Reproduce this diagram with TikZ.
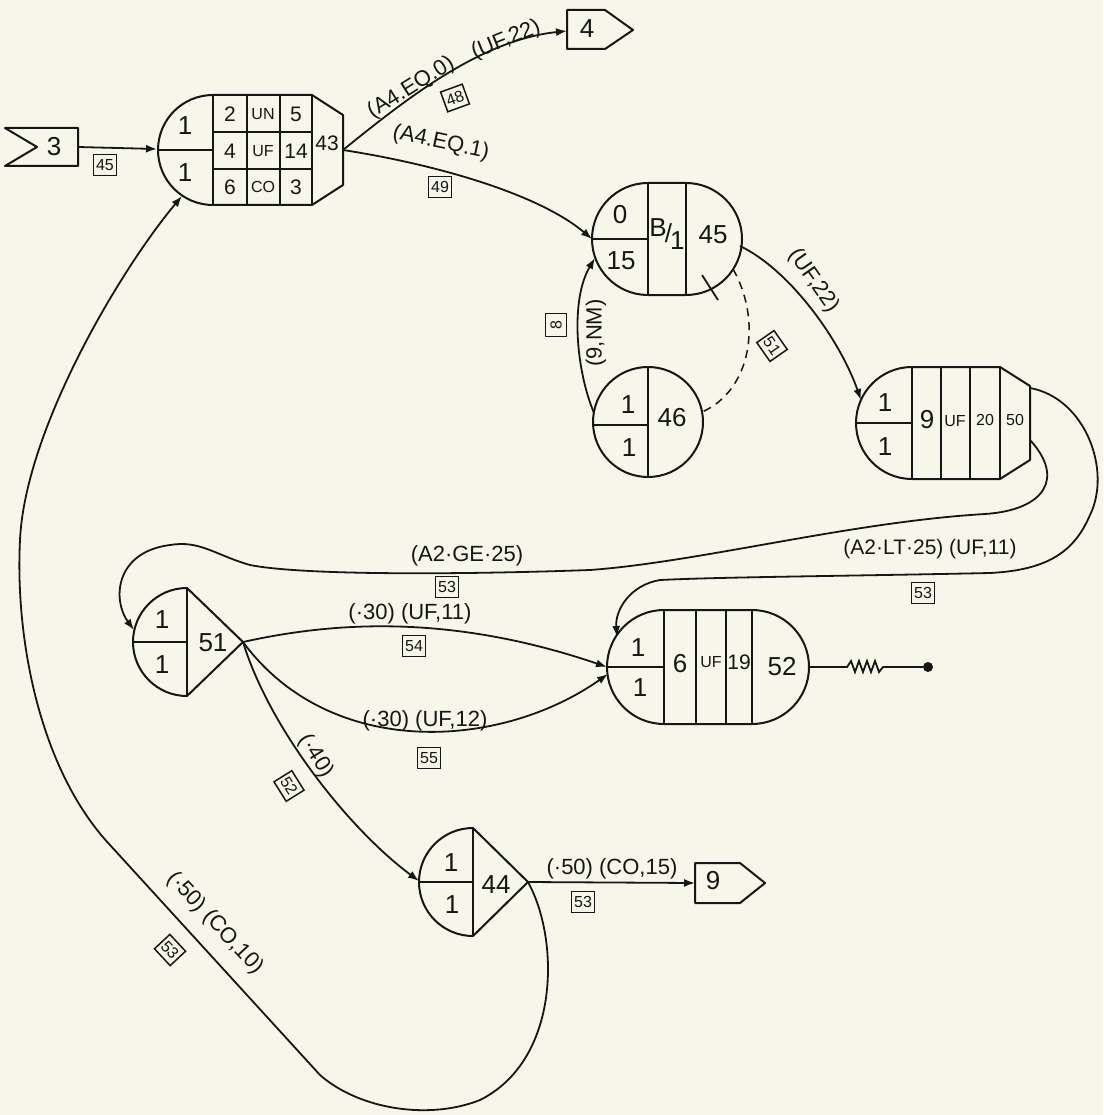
\documentclass[tikz,border=0pt]{standalone}
\usepackage{fontspec}
\setmainfont{Liberation Sans}
\usetikzlibrary{arrows.meta}
\definecolor{paper}{HTML}{F7F6EA}
\definecolor{ink}{HTML}{161616}
\begin{document}
\begin{tikzpicture}[x=1pt,y=-1pt,
  every node/.style={text=ink},
  inkline/.style={draw=ink, line width=2pt, line join=round},
  conn/.style={draw=ink, line width=1.8pt, -{Latex[length=11pt,width=8pt]}},
  plain/.style={draw=ink, line width=1.8pt},
  big/.style={inner sep=0pt, font=\fontsize{26}{28}\selectfont},
  cell/.style={inner sep=0pt, font=\fontsize{21}{23}\selectfont},
  letters/.style={inner sep=0pt, font=\fontsize{16}{18}\selectfont},
  lbl/.style={inner sep=0pt, font=\fontsize{22}{24}\selectfont},
  tag/.style={draw=ink, line width=1.5pt, inner sep=0.5pt, minimum width=23pt, minimum height=21pt, font=\fontsize{16}{17}\selectfont},
]
\fill[paper] (0,0) rectangle (1103,1115);
\useasboundingbox (0,0) rectangle (1103,1115);

% ---------- source 3 ----------
\draw[inkline] (5,128) -- (78,128) -- (78,166) -- (5,166) -- (37,147) -- cycle;
\node[big] (t3) at (54,147) {3};
\coordinate (s3out) at (78,147);

% ---------- node 43 ----------
\draw[inkline] (213,95) -- (312,95) -- (343,115) -- (343,185) -- (312,205) -- (213,205)
  arc[start angle=270,end angle=90,radius=55pt] -- cycle;
\draw[inkline] (213,95)--(213,205) (247,95)--(247,205) (280,95)--(280,205) (312,95)--(312,205)
  (213,132)--(312,132) (213,169)--(312,169) (158,150)--(213,150);
\node[big] (a43a) at (185,126) {1};
\node[big] (a43b) at (185,173) {1};
\node[cell] (c11) at (230,114) {2};
\node[letters] (c12) at (263,114) {UN};
\node[cell] (c13) at (296,114) {5};
\node[cell] (c21) at (230,151) {4};
\node[letters] (c22) at (263,151) {UF};
\node[cell] (c23) at (296,151) {14};
\node[cell] (c31) at (230,187) {6};
\node[letters] (c32) at (263,187) {CO};
\node[cell] (c33) at (296,187) {3};
\node[cell] (n43lab) at (327,143) {43};
\coordinate (n43in) at (157,149);
\coordinate (n43out) at (343,150);
\coordinate (n43loop) at (182,196);

% ---------- sink 4 ----------
\draw[inkline] (567,10) -- (605,10) -- (633,30) -- (605,49) -- (567,49) -- cycle;
\node[big] (t4) at (587,29) {4};
\coordinate (n4in) at (567,31);

% ---------- node 45 ----------
\draw[inkline] (648,183) -- (686,183) arc[start angle=90,end angle=-90,radius=56pt]
  -- (648,295) arc[start angle=270,end angle=90,radius=56pt] -- cycle;
\draw[inkline] (648,183)--(648,295) (686,183)--(686,295) (592,239)--(648,239);
\node[big] (a45a) at (620,215) {0};
\node[big] (a45b) at (621,261) {15};
\node[big] (a45c) at (667,234) {\raisebox{6pt}{B}\kern-2pt/\kern-2pt\raisebox{-7pt}{1}};
\node[big] (n45lab) at (713,235) {45};
\coordinate (n45in) at (592,239);
\coordinate (n45in2) at (595,258);
\coordinate (n45out) at (740,246);
\coordinate (n45dash) at (733,269);
\draw[plain] (702,275) -- (718,300);

% ---------- node 46 ----------
\draw[inkline] (648,422) circle[radius=55pt];
\draw[inkline] (648,367)--(648,477) (593,425)--(648,425);
\node[big] (a46a) at (628,405) {1};
\node[big] (a46b) at (629,448) {1};
\node[big] (n46lab) at (672,418) {46};
\coordinate (n46out) at (594,413);
\coordinate (n46dash) at (702,412);

% ---------- node 50 ----------
\draw[inkline] (912,367) -- (1000,367) -- (1030,386) -- (1030,460) -- (1000,479) -- (912,479)
  arc[start angle=270,end angle=90,radius=56pt] -- cycle;
\draw[inkline] (912,367)--(912,479) (941,367)--(941,479) (970,367)--(970,479) (1000,367)--(1000,479) (856,423)--(912,423);
\node[big] (a50a) at (885,403) {1};
\node[big] (a50b) at (885,447) {1};
\node[big] (a50c) at (927,420) {9};
\node[letters] (a50d) at (955,421) {UF};
\node[letters] (a50e) at (985,420) {20};
\node[letters] (n50lab) at (1015,420) {50};
\coordinate (n50in) at (861,400);
\coordinate (n50outA) at (1030,440);
\coordinate (n50outB) at (1030,388);

% ---------- node 51 ----------
\draw[inkline] (187,588) -- (243,642) -- (187,696) arc[start angle=270,end angle=90,radius=54pt] -- cycle;
\draw[inkline] (187,588)--(187,696) (133,642)--(187,642);
\node[big] (a51a) at (162,620) {1};
\node[big] (a51b) at (162,665) {1};
\node[big] (n51lab) at (213,643) {51};
\coordinate (n51in) at (134,630);
\coordinate (n51out) at (243,642);

% ---------- node 52 ----------
\draw[inkline] (664,610) -- (752,610) arc[start angle=90,end angle=-90,radius=57pt]
  -- (664,724) arc[start angle=270,end angle=90,radius=57pt] -- cycle;
\draw[inkline] (664,610)--(664,724) (696,610)--(696,724) (726,610)--(726,724) (752,610)--(752,724) (607,667)--(664,667);
\node[big] (a52a) at (638,648) {1};
\node[big] (a52b) at (640,688) {1};
\node[big] (a52c) at (680,664) {6};
\node[letters] (a52d) at (711,662) {UF};
\node[cell] (a52e) at (739,662) {19};
\node[big] (n52lab) at (782,667) {52};
\coordinate (n52inA) at (607,667);
\coordinate (n52inB) at (608,674);
\coordinate (n52inC) at (617,637);
\coordinate (n52out) at (809,667);
\coordinate (zz1) at (847,667);
\coordinate (zz2) at (883,667);
\node[circle, fill=ink, inner sep=0pt, minimum size=10pt] (dot52) at (928,667) {};
\draw[plain] (n52out) -- (zz1) -- (851,661) -- (855,672) -- (859,661) -- (863,672) -- (867,661)
  -- (871,672) -- (875,661) -- (879,672) -- (zz2) -- (dot52);

% ---------- node 44 ----------
\draw[inkline] (473,828) -- (528,882) -- (473,936) arc[start angle=270,end angle=90,radius=54pt] -- cycle;
\draw[inkline] (473,828)--(473,936) (419,882)--(473,882);
\node[big] (a44a) at (451,863) {1};
\node[big] (a44b) at (452,905) {1};
\node[big] (n44lab) at (496,885) {44};
\coordinate (n44in) at (419,881);
\coordinate (n44out) at (528,882);

% ---------- sink 9 ----------
\draw[inkline] (695,863) -- (740,863) -- (765,883) -- (740,903) -- (695,903) -- cycle;
\node[big] (t9) at (713,881) {9};
\coordinate (s9in) at (695,883);

% ---------- connectors ----------
\draw[conn] (s3out) -- (n43in);
\node[tag] (g45) at (105,165) {45};

\draw[conn] (n43out) .. controls (405,100) and (480,40) .. (n4in);
\node[lbl, rotate=32] (l1a) at (411,88) {(A4.EQ.0)};
\node[lbl, rotate=22] (l1b) at (506,40) {(UF,22)};
\node[tag, rotate=20] (g48) at (455,98) {48};

\draw[conn] (n43out) .. controls (440,165) and (540,195) .. (n45in);
\node[lbl, rotate=-12] (l2) at (441,143) {(A4.EQ.1)};
\node[tag] (g49) at (440,187) {49};

\draw[conn] (n46out) .. controls (576,370) and (570,300) .. (n45in2);
\node[lbl, rotate=90] (l3) at (596,333) {(9,NM)};
\node[tag, rotate=90] (g8) at (556,325) {8};

\draw[inkline, line width=1.5pt, dash pattern=on 8pt off 6pt] (n45dash) .. controls (762,320) and (752,390) .. (n46dash);

\draw[conn] (n45out) .. controls (790,270) and (840,340) .. (n50in);
\node[lbl, rotate=-55] (l4) at (814,281) {(UF,22)};
\node[tag, rotate=-55] (g51) at (772,346) {51};

\draw[conn] (n50outA) .. controls (1065,478) and (1045,510) .. (985,514)
  .. controls (850,522) and (700,562) .. (590,570)
  .. controls (450,575) and (300,575) .. (250,565)
  .. controls (215,555) and (200,540) .. (170,545)
  .. controls (115,552) and (112,600) .. (n51in);
\node[lbl] (l5) at (467,556) {(A2·GE·25)};
\node[tag] (g53a) at (447,587) {53};

\draw[conn] (n50outB) .. controls (1085,398) and (1112,470) .. (1090,515)
  .. controls (1075,550) and (1050,570) .. (990,573)
  .. controls (850,576) and (720,577) .. (660,580)
  .. controls (630,585) and (615,610) .. (n52inC);
\node[lbl, font=\fontsize{21}{23}\selectfont] (l6) at (930,549) {(A2·LT·25) (UF,11)};
\node[tag] (g53b) at (923,593) {53};

\draw[conn] (n51out) .. controls (320,625) and (440,610) .. (n52inA);
\node[lbl] (l7) at (410,614) {(·30) (UF,11)};
\node[tag] (g54) at (414,646) {54};

\draw[conn] (n51out) .. controls (330,760) and (500,750) .. (n52inB);
\node[lbl] (l8) at (425,721) {(·30) (UF,12)};
\node[tag] (g55) at (429,758) {55};

\draw[conn] (n51out) .. controls (270,730) and (350,830) .. (n44in);
\node[lbl, rotate=-58] (l9) at (316,756) {(·40)};
\node[tag, rotate=-58] (g52) at (289,786) {52};

\draw[conn] (n44out) -- (s9in);
\node[lbl] (l10) at (612,869) {(·50) (CO,15)};
\node[tag] (g53c) at (583,902) {53};

\draw[conn] (n44out) .. controls (560,940) and (560,1060) .. (480,1100)
  .. controls (430,1120) and (360,1110) .. (320,1075)
  -- (110,845)
  .. controls (40,770) and (15,640) .. (20,540)
  .. controls (25,430) and (120,270) .. (n43loop);
\node[lbl, rotate=-47] (l11) at (215,923) {(·50) (CO,10)};
\node[tag, rotate=-47] (g53d) at (170,950) {53};
\end{tikzpicture}
\end{document}
